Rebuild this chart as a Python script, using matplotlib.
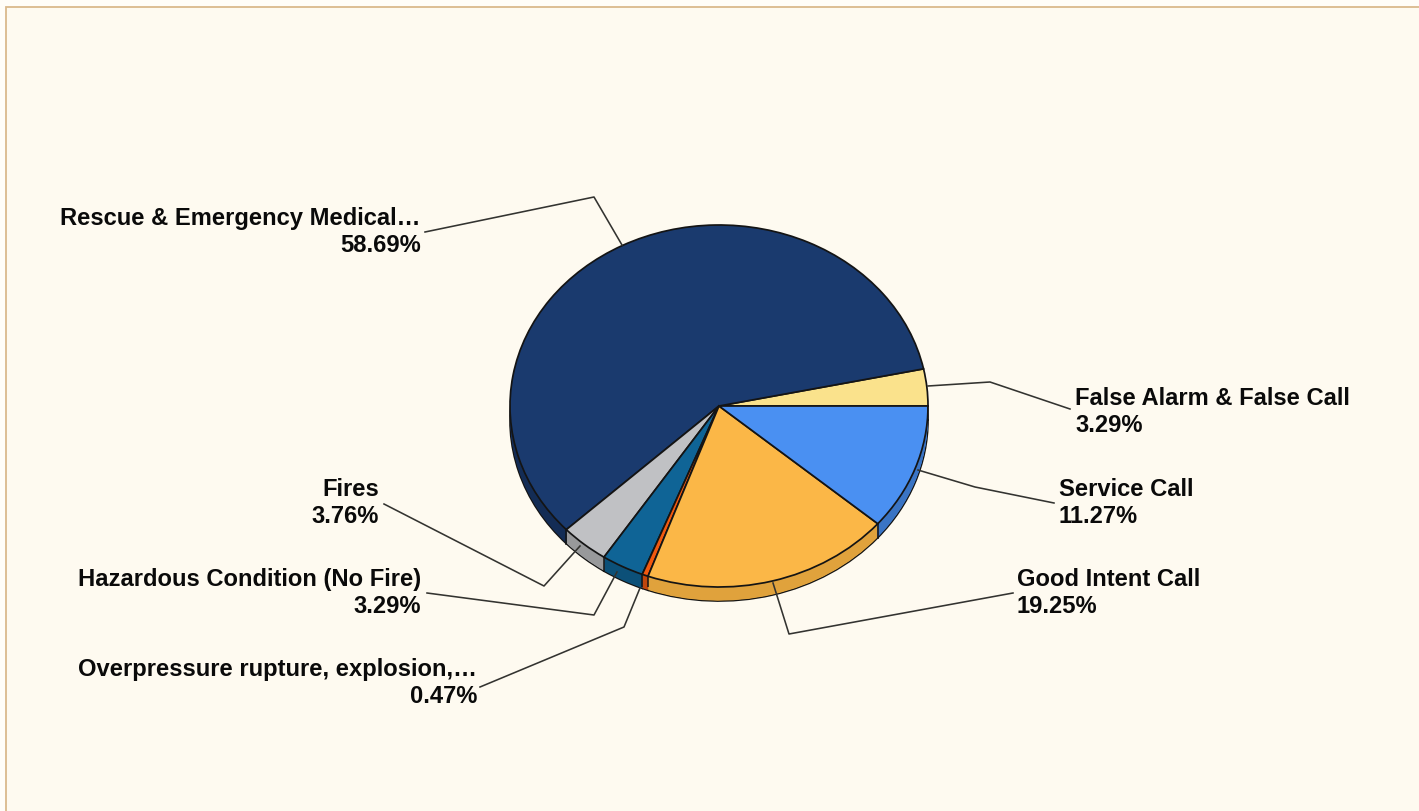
import numpy as np
import matplotlib
matplotlib.use("Agg")
import matplotlib.pyplot as plt
from matplotlib.lines import Line2D
from matplotlib.patches import Rectangle

W, H = 1419, 812

categories = ["False Alarm & False Call", "Rescue & Emergency Medical…", "Fires",
              "Hazardous Condition (No Fire)", "Overpressure rupture, explosion,…",
              "Good Intent Call", "Service Call"]
values = [3.29, 58.69, 3.76, 3.29, 0.47, 19.25, 11.27]
colors = ["#fae28c", "#1a3a6e", "#c0c1c4", "#0f6496", "#f2590f", "#fbb747", "#4a90f2"]
side_colors = ["#d9c070", "#132c55", "#98999b", "#0c5078", "#c0460c", "#e0a23c", "#3a74c4"]

# label anchor (x, y centre, alignment) in image pixels
label_pos = [(1075, 412, "left"), (421, 232, "right"), (379, 503, "right"),
             (421, 593, "right"), (477, 683, "right"), (1017, 593, "left"), (1059, 503, "left")]
leaders = [[(928, 387), (990, 383), (1070, 410)],
           [(622, 246), (594, 198), (425, 233)],
           [(580, 547), (544, 587), (384, 505)],
           [(617, 573), (594, 616), (427, 594)],
           [(640, 589), (624, 628), (480, 688)],
           [(773, 584), (789, 635), (1013, 594)],
           [(918, 471), (975, 488), (1054, 504)]]


def fx(x):
    return x / W


def fy(y):
    return 1 - y / H


cx, cy, rx, ry, depth = 719, 407, 209, 181, 14

fig = plt.figure(figsize=(W / 100, H / 100), dpi=100, facecolor="#fffdf8")
fig.add_artist(Rectangle((fx(6), -0.1), 1.1, fy(8) + 0.1, transform=fig.transFigure,
                         facecolor="#fefaf0", edgecolor="#dab98c", linewidth=1.3, zorder=-1))

ax = fig.add_axes([fx(cx - rx), fy(cy + ry), 2 * rx / W, 2 * ry / H])

# side wall of the pie, stacked from the bottom up
dz = depth / ry
outline = {"edgecolor": "#141414", "linewidth": 1.25}
ax.pie(values, colors=side_colors, startangle=0, center=(0, -dz), radius=1,
       wedgeprops=outline, normalize=True)
for k in np.linspace(dz, 0, depth * 2, endpoint=False):
    ax.pie(values, colors=side_colors, startangle=0, center=(0, -k), radius=0.998,
           wedgeprops={"linewidth": 0}, normalize=True)

# seams between slices on the front of the wall
angles = np.cumsum(values) / np.sum(values) * 2 * np.pi
for a in angles:
    if np.sin(a) < 0:
        ax.plot([np.cos(a), np.cos(a)], [np.sin(a), np.sin(a) - dz], color="#141414",
                lw=1.1, zorder=5)

ax.pie(values, colors=colors, startangle=0, center=(0, 0), radius=1,
       wedgeprops=outline, normalize=True)
for p in ax.patches:
    p.set_clip_on(False)
ax.set_aspect("auto")
ax.set_xlim(-1, 1)
ax.set_ylim(-1, 1)
ax.axis("off")

for pts in leaders:
    xs = [fx(p[0]) for p in pts]
    ys = [fy(p[1]) for p in pts]
    fig.add_artist(Line2D(xs, ys, color="#333330", lw=1.15, zorder=6))

for name, val, (x, y, ha) in zip(categories, values, label_pos):
    fig.text(fx(x), fy(y), f"{name}\n{val:.2f}%", ha=ha, va="center", multialignment=ha,
             family="Liberation Sans", weight="bold", fontsize=17.15, color="#0a0a0a",
             linespacing=1.19)

fig.savefig("out.png", dpi=100, facecolor=fig.get_facecolor())
